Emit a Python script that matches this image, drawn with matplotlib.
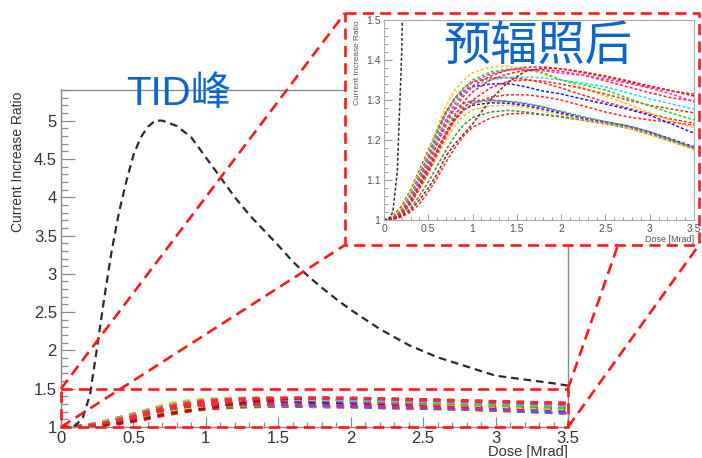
import matplotlib
matplotlib.use("Agg")
import matplotlib.pyplot as plt
from matplotlib.patches import Rectangle
from matplotlib.ticker import MultipleLocator, FuncFormatter

plt.rcParams['lines.scale_dashes'] = False
plt.rcParams['font.family'] = ['Liberation Sans', 'Noto Sans CJK SC']

# ---- TID peak run (black) ----
dose_tid = [0, 0.05, 0.1, 0.15, 0.2, 0.25, 0.3, 0.35, 0.4, 0.45, 0.5, 0.55, 0.6,
            0.65, 0.7, 0.8, 0.9, 1.0, 1.1, 1.2, 1.3, 1.4, 1.5, 1.6, 1.7, 1.8,
            1.9, 2.0, 2.2, 2.4, 2.6, 2.8, 3.0, 3.2, 3.4, 3.5]
ratio_tid = [1.0, 1.0, 1.02, 1.12, 1.42, 2.05, 2.7, 3.3, 3.8, 4.2, 4.55, 4.78, 4.92,
             5.0, 5.0, 4.93, 4.78, 4.52, 4.26, 4.0, 3.77, 3.57, 3.37, 3.16, 2.98, 2.82,
             2.67, 2.53, 2.28, 2.07, 1.91, 1.79, 1.67, 1.62, 1.57, 1.54]

# ---- pre-irradiated samples ----
dose = [0, 0.1, 0.2, 0.3, 0.4, 0.5, 0.6, 0.7, 0.8, 0.9, 1.0,
        1.2, 1.4, 1.6, 1.8, 2.0, 2.25, 2.5, 2.75, 3.0, 3.25, 3.5]

red_a = [1.0, 1.005, 1.02, 1.05, 1.09, 1.14, 1.19, 1.24, 1.28, 1.31, 1.335,
         1.36, 1.375, 1.382, 1.383, 1.378, 1.368, 1.357, 1.345, 1.332, 1.322, 1.315]
darkred = [1.0, 1.002, 1.01, 1.025, 1.05, 1.08, 1.115, 1.16, 1.19, 1.215, 1.24,
           1.30, 1.345, 1.372, 1.38, 1.378, 1.37, 1.36, 1.348, 1.335, 1.323, 1.31]
magenta = [1.0, 1.005, 1.02, 1.05, 1.10, 1.15, 1.20, 1.25, 1.29, 1.32, 1.345,
           1.365, 1.375, 1.377, 1.373, 1.367, 1.362, 1.352, 1.342, 1.33, 1.315, 1.295]
red_b = [1.0, 1.004, 1.015, 1.04, 1.08, 1.12, 1.17, 1.22, 1.26, 1.295, 1.32,
         1.35, 1.365, 1.375, 1.376, 1.372, 1.362, 1.348, 1.333, 1.318, 1.305, 1.298]
cyan = [1.0, 1.005, 1.02, 1.05, 1.10, 1.15, 1.20, 1.25, 1.29, 1.315, 1.335,
        1.35, 1.357, 1.357, 1.355, 1.35, 1.342, 1.333, 1.318, 1.303, 1.29, 1.277]
green = [1.0, 1.006, 1.025, 1.06, 1.11, 1.16, 1.215, 1.265, 1.30, 1.33, 1.35,
         1.37, 1.377, 1.376, 1.368, 1.35, 1.338, 1.325, 1.305, 1.285, 1.267, 1.25]
red_c = [1.0, 1.004, 1.015, 1.04, 1.08, 1.12, 1.165, 1.21, 1.25, 1.28, 1.30,
         1.33, 1.347, 1.35, 1.347, 1.34, 1.328, 1.315, 1.30, 1.287, 1.277, 1.268]
orange = [1.0, 1.008, 1.03, 1.07, 1.12, 1.17, 1.23, 1.285, 1.325, 1.35, 1.368,
          1.382, 1.385, 1.378, 1.365, 1.35, 1.33, 1.31, 1.29, 1.268, 1.248, 1.23]
red_d = [1.0, 1.01, 1.035, 1.075, 1.125, 1.175, 1.225, 1.27, 1.305, 1.33, 1.345,
         1.355, 1.356, 1.352, 1.343, 1.33, 1.312, 1.295, 1.28, 1.265, 1.252, 1.242]
blue = [1.0, 1.007, 1.028, 1.065, 1.115, 1.165, 1.22, 1.27, 1.303, 1.322, 1.333,
        1.34, 1.341, 1.333, 1.322, 1.315, 1.302, 1.29, 1.277, 1.262, 1.24, 1.217]
red_e = [1.0, 1.005, 1.02, 1.05, 1.09, 1.13, 1.175, 1.215, 1.25, 1.275, 1.29,
         1.307, 1.313, 1.313, 1.308, 1.30, 1.285, 1.27, 1.258, 1.25, 1.244, 1.237]
purple = [1.0, 1.006, 1.025, 1.06, 1.105, 1.155, 1.205, 1.25, 1.278, 1.292, 1.298,
          1.30, 1.296, 1.29, 1.282, 1.27, 1.256, 1.245, 1.235, 1.22, 1.20, 1.182]
green_e = [1.0, 1.005, 1.02, 1.05, 1.095, 1.14, 1.19, 1.235, 1.265, 1.284, 1.294,
           1.298, 1.297, 1.292, 1.283, 1.272, 1.258, 1.246, 1.236, 1.221, 1.20, 1.18]
blue_e = [1.0, 1.004, 1.017, 1.045, 1.085, 1.13, 1.175, 1.22, 1.255, 1.275, 1.287,
          1.293, 1.292, 1.286, 1.277, 1.267, 1.254, 1.245, 1.235, 1.22, 1.202, 1.183]
yellow_e = [1.0, 1.004, 1.016, 1.04, 1.075, 1.115, 1.16, 1.20, 1.235, 1.26, 1.275,
            1.285, 1.287, 1.282, 1.272, 1.263, 1.25, 1.24, 1.23, 1.213, 1.195, 1.176]
dkgreen = [1.0, 1.003, 1.012, 1.03, 1.06, 1.095, 1.135, 1.175, 1.21, 1.238, 1.256,
           1.27, 1.274, 1.27, 1.264, 1.258, 1.25, 1.242, 1.232, 1.217, 1.198, 1.18]
red_low = [1.0, 1.002, 1.008, 1.02, 1.04, 1.07, 1.105, 1.145, 1.18, 1.21, 1.232,
           1.255, 1.265, 1.267, 1.263, 1.258, 1.249, 1.24, 1.23, 1.214, 1.196, 1.178]

runs = [
    (red_low, '#ff2a2a'), (dkgreen, '#2e9e2e'), (yellow_e, '#ffc21a'),
    (blue_e, '#1a1aff'), (green_e, '#1fd91f'), (purple, '#9b30ff'),
    (red_e, '#ff2a2a'), (blue, '#1a1aff'), (red_d, '#ff2a2a'),
    (orange, '#ffc21a'), (red_c, '#ff2a2a'), (green, '#1fd91f'),
    (cyan, '#1ee0ee'), (red_b, '#ff2a2a'), (magenta, '#ff2aff'),
    (darkred, '#aa1414'), (red_a, '#ff2a2a'),
]

W, H = 702, 458
fig = plt.figure(figsize=(W / 100, H / 100), dpi=100)
fig.patch.set_facecolor('white')


def fig_rect(x0, y0, x1, y1):
    """pixel box (top-left origin) -> figure fraction rect"""
    return [x0 / W, 1 - y1 / H, (x1 - x0) / W, (y1 - y0) / H]


fmt = FuncFormatter(lambda v, p: f"{v:g}")
axis_grey = '#8a8a8a'
label_col = '#333333'

# ---------------- main frame ----------------
ax = fig.add_axes(fig_rect(61, 90, 568, 427))
ax.set_zorder(1)
for vals, col in runs:
    ax.plot(dose, vals, color=col, lw=2.0, ls=(0, (5.0, 5.0)))
ax.plot(dose_tid, ratio_tid, color='#2b2b2b', lw=1.6, ls=(0, (5.5, 3.5)))
ax.set_xlim(0, 3.5)
ax.set_ylim(1, 5.4)
ax.xaxis.set_major_locator(MultipleLocator(0.5))
ax.xaxis.set_minor_locator(MultipleLocator(0.1))
ax.yaxis.set_major_locator(MultipleLocator(0.5))
ax.yaxis.set_minor_locator(MultipleLocator(0.1))
ax.xaxis.set_major_formatter(fmt)
ax.yaxis.set_major_formatter(fmt)
ax.tick_params(which='both', direction='in', color=axis_grey, width=0.9,
               labelsize=12, labelcolor=label_col, top=False, right=False)
ax.tick_params(axis='y', which='major', length=10, pad=3)
ax.tick_params(axis='y', which='minor', length=5)
ax.tick_params(axis='x', which='major', length=7.5, pad=3)
ax.tick_params(axis='x', which='minor', length=3.8)
for s in ax.spines.values():
    s.set_color(axis_grey)
    s.set_linewidth(1.0)
ax.set_xlabel('Dose [Mrad]', loc='right', fontsize=10.5, color=label_col)
ax.xaxis.set_label_coords(1.0, -0.054)
ax.set_ylabel('Current Increase Ratio', loc='top', fontsize=10, color=label_col)
ax.yaxis.set_label_coords(-0.071, 0.995)

# ---------------- overlays in pixel coordinates ----------------
inset_frame = (345, 13, 699, 245)

back = fig.add_axes([0, 0, 1, 1])
back.set_zorder(2)
back.set_xlim(0, W)
back.set_ylim(H, 0)
back.axis('off')
back.add_patch(Rectangle((inset_frame[0], inset_frame[1]),
                         inset_frame[2] - inset_frame[0],
                         inset_frame[3] - inset_frame[1],
                         facecolor='white', edgecolor='none'))

# ---------------- zoomed inset ----------------
ins = fig.add_axes(fig_rect(384, 20, 694, 220))
ins.set_zorder(3)
for vals, col in runs:
    ins.plot(dose, vals, color=col, lw=1.1, ls=(0, (2.2, 1.4)))
ins.plot(dose_tid, ratio_tid, color='#333333', lw=1.1, ls=(0, (2.2, 1.4)))
ins.set_xlim(0, 3.5)
ins.set_ylim(1, 1.5)
ins.xaxis.set_major_locator(MultipleLocator(0.5))
ins.xaxis.set_minor_locator(MultipleLocator(0.1))
ins.yaxis.set_major_locator(MultipleLocator(0.1))
ins.yaxis.set_minor_locator(MultipleLocator(0.02))
ins.xaxis.set_major_formatter(fmt)
ins.yaxis.set_major_formatter(fmt)
ins.tick_params(which='both', direction='in', color='#999999', width=0.7,
                labelsize=7.5, labelcolor='#555555', top=False, right=False)
ins.tick_params(axis='y', which='major', length=6, pad=2.5)
ins.tick_params(axis='y', which='minor', length=3)
ins.tick_params(axis='x', which='major', length=4.5, pad=3)
ins.tick_params(axis='x', which='minor', length=2.3)
for s in ins.spines.values():
    s.set_color('#aaaaaa')
    s.set_linewidth(0.8)
ins.set_xlabel('Dose [Mrad]', loc='right', fontsize=6.5, color='#555555')
ins.xaxis.set_label_coords(1.0, -0.075)
ins.set_ylabel('Current Increase Ratio', loc='top', fontsize=6, color='#555555')
ins.yaxis.set_label_coords(-0.075, 1.0)

# ---------------- zoom box, connectors, captions ----------------
front = fig.add_axes([0, 0, 1, 1])
front.set_zorder(4)
front.set_xlim(0, W)
front.set_ylim(H, 0)
front.axis('off')


def data_to_px(a, x, y):
    X, Y = a.transData.transform((x, y))
    return X, fig.bbox.height - Y


x_lo, x_hi = ins.get_xlim()
y_lo, y_hi = ins.get_ylim()
tl = data_to_px(ax, x_lo, y_hi)
tr = data_to_px(ax, x_hi, y_hi)
bl = data_to_px(ax, x_lo, y_lo)
br = data_to_px(ax, x_hi, y_lo)

red_style = dict(color='#ff1a1a', lw=1.9, ls=(0, (8.0, 4.5)),
                 solid_capstyle='butt', dash_capstyle='butt')
front.plot([tl[0], tr[0], br[0], bl[0], tl[0]],
           [tl[1], tr[1], br[1], bl[1], tl[1]], **red_style)
fx0, fy0, fx1, fy1 = inset_frame
front.plot([fx0, fx1, fx1, fx0, fx0], [fy0, fy0, fy1, fy1, fy0], **red_style)
front.plot([tl[0], fx0], [tl[1], fy0], **red_style)
front.plot([bl[0], fx0], [bl[1], fy1], **red_style)
front.plot([tr[0], 618], [tr[1], fy1], **red_style)
front.plot([br[0], fx1], [br[1], fy1], **red_style)

blue_txt = '#0a66cc'
front.text(126, 105, 'TID峰', fontsize=29, color=blue_txt, ha='left',
           va='baseline', family=['Liberation Sans', 'Noto Sans CJK SC'])
front.text(538, 47, '预辐照后', fontsize=34, color=blue_txt, ha='center',
           va='center', family=['Noto Sans CJK SC', 'DejaVu Sans'])

fig.savefig('out.png', dpi=100, facecolor='white')
